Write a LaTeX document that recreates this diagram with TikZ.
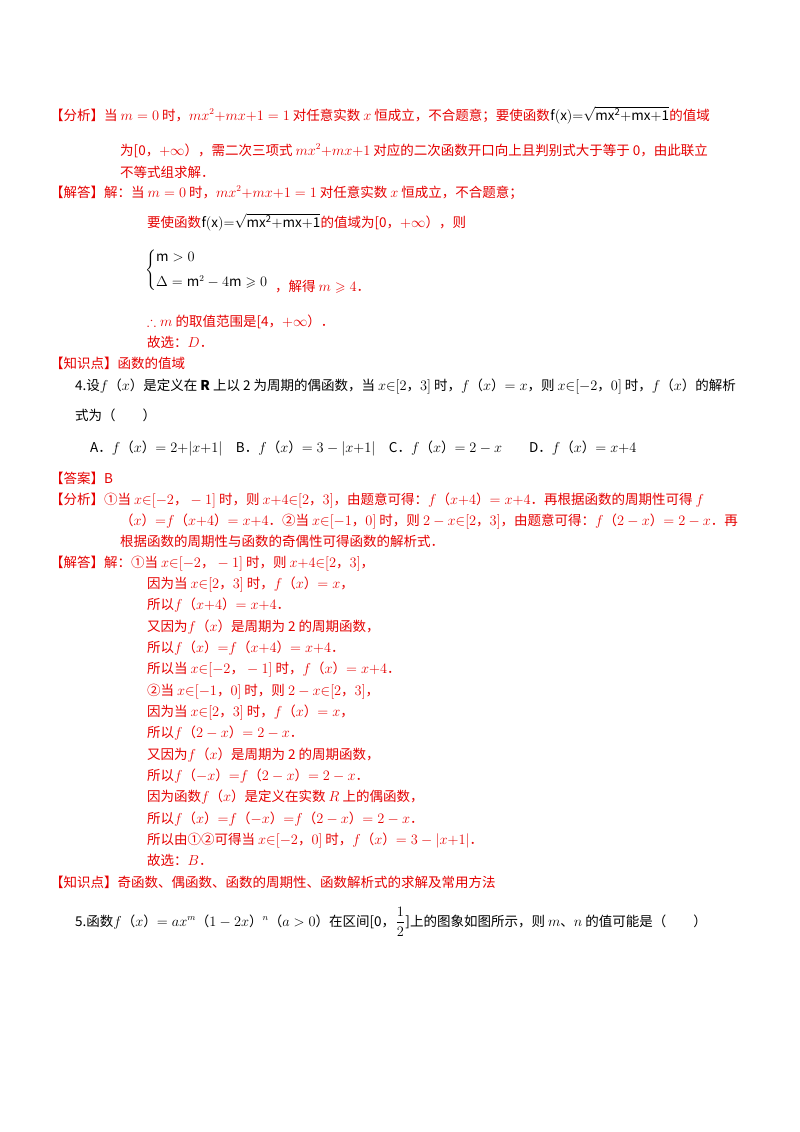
\documentclass[tikz,border=0pt]{standalone}
\usepackage{fontspec}
\usepackage{amsmath,amssymb}
\setmainfont{Noto Sans CJK SC}
\usepackage{tikz}
\tikzstyle{line} = [anchor=base west, inner sep=0pt, font=\fontsize{13.5}{16}\selectfont, text=black]
\tikzstyle{ans} = [line, text=red!90!black]
\newcommand{\fx}[1]{$f$（$#1$）}

\begin{document}
\begin{tikzpicture}[x=1pt,y=-1pt]
\useasboundingbox (0,0) rectangle (800,1132);

% problem 3 answer
\node (a1) [ans] at (50,120) {【分析】当 $m=0$ 时，$mx^2{+}mx{+}1=1$ 对任意实数 $x$ 恒成立，不合题意；要使函数};
\node (a1f) [ans, text=black, anchor=base west] at (a1.base east) {$\mathrm{f(x)}{=}\sqrt{\mathrm{mx^2{+}mx{+}1}}$};
\node (a1e) [ans] at (a1f.base east) {的值域};
\node (a2) [ans] at (120,155) {为[0，$+\infty$），需二次三项式 $mx^2{+}mx{+}1$ 对应的二次函数开口向上且判别式大于等于 0，由此联立};
\node (a3) [ans] at (120,177) {不等式组求解．};
\node (a4) [ans] at (50,197) {【解答】解：当 $m=0$ 时，$mx^2{+}mx{+}1=1$ 对任意实数 $x$ 恒成立，不合题意；};
\node (a5) [ans] at (147,227) {要使函数};
\node (a5f) [ans, text=black] at (a5.base east) {$\mathrm{f(x)}{=}\sqrt{\mathrm{mx^2{+}mx{+}1}}$};
\node (a5e) [ans] at (a5f.base east) {的值域为[0，$+\infty$），则};
\node (sys) [line, anchor=west] at (145,270) {$\begin{cases}\mathrm{m}>0\\[6pt] \Delta=\mathrm{m}^2-4\mathrm{m}\geqslant0\end{cases}$};
\node (a6) [ans] at (275,291) {，解得 $m\geqslant4$．};
\node (a7) [ans] at (147,326) {$\therefore m$ 的取值范围是[4，$+\infty$）．};
\node (a8) [ans] at (147,347) {故选：$D$．};
\node (a9) [ans] at (50,368) {【知识点】函数的值域};

% problem 4
\node (q4) [line] at (75,390) {4.设\fx{x}是定义在 $\mathbf{R}$ 上以 2 为周期的偶函数，当 $x{\in}[2，3]$ 时，\fx{x}$=x$，则 $x{\in}[-2，0]$ 时，\fx{x}的解析};
\node (q4b) [line] at (75,420) {式为（\quad\quad）};
\node (q4c) [line] at (90,452) {A．\fx{x}$=2{+}|x{+}1|$\quad B．\fx{x}$=3-|x{+}1|$\quad C．\fx{x}$=2-x$\qquad D．\fx{x}$=x{+}4$};
\node (b1) [ans] at (50,483) {【答案】B};
\node (b2) [ans] at (50,504) {【分析】①当 $x{\in}[-2，-1]$ 时，则 $x{+}4{\in}[2，3]$，由题意可得：\fx{x{+}4}$=x{+}4$．再根据函数的周期性可得 $f$};
\node (b3) [ans] at (120,525) {（$x$）$=$\fx{x{+}4}$=x{+}4$．②当 $x{\in}[-1，0]$ 时，则 $2-x{\in}[2，3]$，由题意可得：\fx{2-x}$=2-x$．再};
\node (b4) [ans] at (120,546) {根据函数的周期性与函数的奇偶性可得函数的解析式．};
\node (b5) [ans] at (50,567) {【解答】解：①当 $x{\in}[-2，-1]$ 时，则 $x{+}4{\in}[2，3]$，};
\node (c1) [ans] at (147,588) {因为当 $x{\in}[2，3]$ 时，\fx{x}$=x$，};
\node (c2) [ans] at (147,609) {所以\fx{x{+}4}$=x{+}4$．};
\node (c3) [ans] at (147,631) {又因为\fx{x}是周期为 2 的周期函数，};
\node (c4) [ans] at (147,652) {所以\fx{x}$=$\fx{x{+}4}$=x{+}4$．};
\node (c5) [ans] at (147,673) {所以当 $x{\in}[-2，-1]$ 时，\fx{x}$=x{+}4$．};
\node (c6) [ans] at (147,695) {②当 $x{\in}[-1，0]$ 时，则 $2-x{\in}[2，3]$，};
\node (c7) [ans] at (147,716) {因为当 $x{\in}[2，3]$ 时，\fx{x}$=x$，};
\node (c8) [ans] at (147,737) {所以\fx{2-x}$=2-x$．};
\node (c9) [ans] at (147,759) {又因为\fx{x}是周期为 2 的周期函数，};
\node (c10) [ans] at (147,780) {所以\fx{-x}$=$\fx{2-x}$=2-x$．};
\node (c11) [ans] at (147,801) {因为函数\fx{x}是定义在实数 $R$ 上的偶函数，};
\node (c12) [ans] at (147,823) {所以\fx{x}$=$\fx{-x}$=$\fx{2-x}$=2-x$．};
\node (c13) [ans] at (147,844) {所以由①②可得当 $x{\in}[-2，0]$ 时，\fx{x}$=3-|x{+}1|$．};
\node (c14) [ans] at (147,865) {故选：$B$．};
\node (c15) [ans] at (50,887) {【知识点】奇函数、偶函数、函数的周期性、函数解析式的求解及常用方法};

% problem 5
\node (q5) [line] at (75,926) {5.函数\fx{x}$=ax^m$（$1-2x$）$^n$（$a>0$）在区间[0，};
\node (q5f) [line, anchor=west] at (q5.east) {$\dfrac{1}{2}$};
\node (q5e) [line] at (q5f.east |- q5.base) {]上的图象如图所示，则 $m$、$n$ 的值可能是（\qquad）};
\end{tikzpicture}
\end{document}
